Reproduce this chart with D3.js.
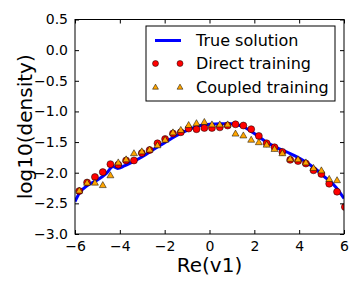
<!DOCTYPE html>
<html>
<head>
<meta charset="utf-8">
<script src="https://cdn.jsdelivr.net/npm/d3@7"></script>
<style>
  body { margin: 0; background: #fff; }
  svg { display: block; }
</style>
</head>
<body>
<div id="chart"></div>
<script>
// values
const binX = [-5.81, -5.46, -5.11, -4.76, -4.42, -4.07, -3.72, -3.37, -3.02, -2.67,
  -2.32, -1.98, -1.63, -1.28, -0.93, -0.58, -0.23, 0.11, 0.46, 0.81,
  1.16, 1.51, 1.86, 2.20, 2.55, 2.90, 3.25, 3.60, 3.95, 4.30,
  4.64, 4.99, 5.34, 5.69, 6.04];
const directValues = [-2.30, -2.16, -2.07, -1.99, -1.86, -1.87, -1.80, -1.80, -1.68, -1.63,
  -1.52, -1.45, -1.36, -1.34, -1.28, -1.29, -1.27, -1.27, -1.26, -1.23,
  -1.21, -1.23, -1.29, -1.40, -1.52, -1.585, -1.66, -1.79, -1.81, -1.85,
  -1.96, -2.02, -2.18, -2.31, -2.56];
const coupledValues = [-2.30, -2.17, -2.17, -2.21, -2.05, -1.84, -1.79, -1.69, -1.66, -1.63,
  -1.56, -1.47, -1.35, -1.31, -1.23, -1.20, -1.18, -1.22, -1.22, -1.22,
  -1.37, -1.40, -1.47, -1.51, -1.55, -1.62, -1.69, -1.78, -1.79, -1.84,
  -1.93, -1.97, -2.11, -2.13, null];
const trueX = [-6.0, -5.8, -5.45, -5.0, -4.6, -4.3, -4.1, -3.8, -3.4, -3.0,
  -2.5, -2.0, -1.5, -1.0, -0.5, 0.0, 0.5, 1.0, 1.5, 2.0,
  2.5, 3.0, 3.5, 4.0, 4.4, 4.8, 5.2, 5.6, 6.0];
const trueValues = [-2.47, -2.33, -2.21, -2.12, -2.01, -1.90, -1.93, -1.89, -1.82, -1.74,
  -1.62, -1.51, -1.40, -1.31, -1.24, -1.21, -1.20, -1.20, -1.25, -1.36,
  -1.49, -1.59, -1.67, -1.76, -1.85, -1.96, -2.09, -2.22, -2.42];
const xTicks = [-6, -4, -2, 0, 2, 4, 6];
const yTicks = [0.5, 0.0, -0.5, -1.0, -1.5, -2.0, -2.5, -3.0];
const legendLabels = ["True solution", "Direct training", "Coupled training"];

const width = 360, height = 288;
const margin = { top: 19.5, right: 16, bottom: 54, left: 75 };
const font = "DejaVu Sans, sans-serif";
const minus = s => s.replace("-", "\u2212");

const svg = d3.select("#chart").append("svg")
  .attr("width", width).attr("height", height)
  .attr("font-family", font);

const x = d3.scaleLinear().domain([-6, 6]).range([margin.left, width - margin.right]);
const y = d3.scaleLinear().domain([-3, 0.5]).range([height - margin.bottom, margin.top]);

svg.append("clipPath").attr("id", "clip")
  .append("rect")
  .attr("x", x(-6)).attr("y", y(0.5))
  .attr("width", x(6) - x(-6)).attr("height", y(-3) - y(0.5));

const plot = svg.append("g").attr("clip-path", "url(#clip)");

// true solution
const line = d3.line().x(d => x(d[0])).y(d => y(d[1])).curve(d3.curveMonotoneX);
plot.append("path")
  .datum(trueX.map((v, i) => [v, trueValues[i]]))
  .attr("fill", "none").attr("stroke", "#0000ff").attr("stroke-width", 3)
  .attr("d", line);

// direct training
plot.selectAll(".direct")
  .data(binX.map((v, i) => [v, directValues[i]]).filter(d => d[1] != null))
  .join("circle").attr("class", "direct")
  .attr("cx", d => x(d[0])).attr("cy", d => y(d[1])).attr("r", 3.5)
  .attr("fill", "#ff0000").attr("stroke", "#000").attr("stroke-width", 0.5);

// coupled training
const tri = d3.symbol().type(d3.symbolTriangle).size(21);
plot.selectAll(".coupled")
  .data(binX.map((v, i) => [v, coupledValues[i]]).filter(d => d[1] != null))
  .join("path").attr("class", "coupled")
  .attr("transform", d => `translate(${x(d[0])},${y(d[1])})`)
  .attr("d", tri)
  .attr("fill", "#ffa500").attr("stroke", "#000").attr("stroke-width", 0.5);

// axes with inward ticks on all sides
const tickLen = 4;
const axB = svg.append("g").attr("transform", `translate(0,${y(-3)})`)
  .call(d3.axisBottom(x).tickValues(xTicks).tickSizeInner(-tickLen).tickSizeOuter(0).tickPadding(7)
    .tickFormat(d => minus(d3.format("d")(d))));
const axT = svg.append("g").attr("transform", `translate(0,${y(0.5)})`)
  .call(d3.axisTop(x).tickValues(xTicks).tickSizeInner(-tickLen).tickSizeOuter(0).tickFormat(""));
const axL = svg.append("g").attr("transform", `translate(${x(-6)},0)`)
  .call(d3.axisLeft(y).tickValues(yTicks).tickSizeInner(-tickLen).tickSizeOuter(0).tickPadding(7)
    .tickFormat(d => minus(d3.format(".1f")(d))));
const axR = svg.append("g").attr("transform", `translate(${x(6)},0)`)
  .call(d3.axisRight(y).tickValues(yTicks).tickSizeInner(-tickLen).tickSizeOuter(0).tickFormat(""));

[axB, axT, axL, axR].forEach(a => {
  a.select(".domain").remove();
  a.selectAll("line").attr("stroke", "#000");
  a.selectAll("text").attr("font-size", 14).attr("font-family", font).attr("fill", "#000");
});

svg.append("rect")
  .attr("x", x(-6)).attr("y", y(0.5))
  .attr("width", x(6) - x(-6)).attr("height", y(-3) - y(0.5))
  .attr("fill", "none").attr("stroke", "#000").attr("stroke-width", 1);

// axis labels
svg.append("text")
  .attr("x", (x(-6) + x(6)) / 2).attr("y", 272)
  .attr("text-anchor", "middle").attr("font-size", 20).text("Re(v1)");
svg.append("text")
  .attr("transform", `translate(32,${(y(0.5) + y(-3)) / 2}) rotate(-90)`)
  .attr("text-anchor", "middle").attr("font-size", 20).text("log10(density)");

// legend
const lg = svg.append("g");
lg.append("rect").attr("x", 146).attr("y", 26).attr("width", 189).attr("height", 75)
  .attr("fill", "#fff").attr("stroke", "#000").attr("stroke-width", 1);
const rowY = [40.5, 63.5, 87.5];
const triSmall = d3.symbol().type(d3.symbolTriangle).size(15);
lg.append("line").attr("x1", 155).attr("x2", 181).attr("y1", rowY[0]).attr("y2", rowY[0])
  .attr("stroke", "#0000ff").attr("stroke-width", 3);
[155.5, 180].forEach(px => {
  lg.append("circle").attr("cx", px).attr("cy", rowY[1]).attr("r", 3)
    .attr("fill", "#ff0000").attr("stroke", "#000").attr("stroke-width", 0.5);
  lg.append("path").attr("transform", `translate(${px},${rowY[2]})`).attr("d", triSmall)
    .attr("fill", "#ffa500").attr("stroke", "#000").attr("stroke-width", 0.5);
});
lg.selectAll(".lbl").data(legendLabels).join("text").attr("class", "lbl")
  .attr("x", 196).attr("y", (d, i) => rowY[i])
  .attr("dy", "0.35em").attr("font-size", 16).text(d => d);
</script>
</body>
</html>
